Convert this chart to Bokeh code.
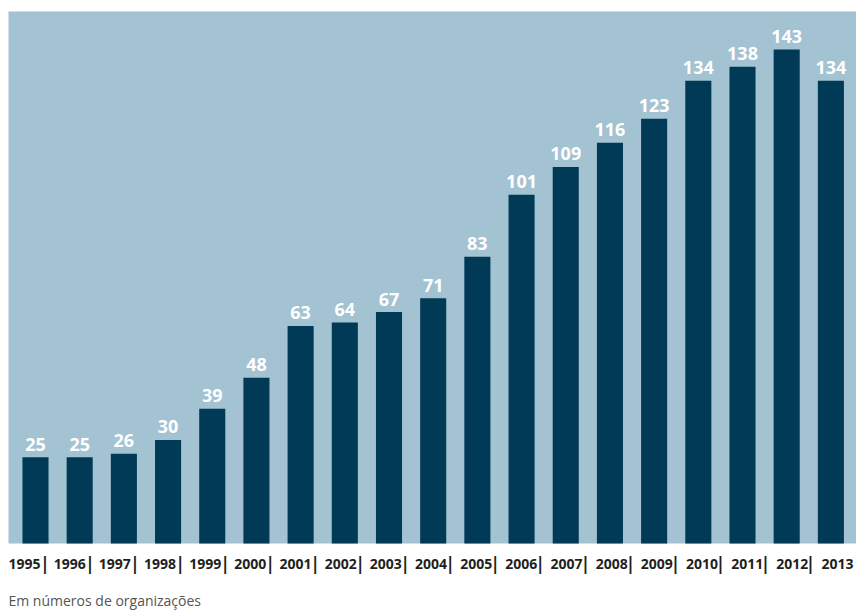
from bokeh.plotting import figure
from bokeh.models import ColumnDataSource, BoxAnnotation, Range1d
from bokeh.core.properties import value
from bokeh.embed import file_html
from bokeh.resources import INLINE

years = ["1995", "1996", "1997", "1998", "1999", "2000", "2001", "2002", "2003", "2004",
         "2005", "2006", "2007", "2008", "2009", "2010", "2011", "2012", "2013"]
counts = [25, 25, 26, 30, 39, 48, 63, 64, 67, 71, 83, 101, 109, 116, 123, 134, 138, 143, 134]
note = "Em números de organizações"

BG = "#a3c2d2"
BAR = "#003a57"
FONT = "Open Sans"

n = len(years)
idx = list(range(n))

p = figure(width=856, height=611, output_backend="svg", toolbar_location=None,
           x_range=Range1d(-0.792, 18.58), y_range=Range1d(-19.68, 157.2),
           x_axis_location=None, y_axis_location=None, min_border=0,
           background_fill_color="white", border_fill_color="white", outline_line_color=None)
p.grid.visible = False

p.add_layout(BoxAnnotation(left=-0.611, right=18.58, bottom=0, top=154.0,
                           fill_color=BG, fill_alpha=1.0, line_color=None, level="underlay"))

src = ColumnDataSource(dict(x=idx, top=counts, lab=[str(c) for c in counts],
                            year=years, xoff=[-11 + i * 0.98 for i in idx]))

p.vbar(x="x", top="top", bottom=0, width=0.59, source=src, fill_color=BAR, line_color=None)

p.text(x="x", y="top", text="lab", source=src, text_align="center", text_baseline="middle",
       y_offset=-13, text_color="white", text_font=value(FONT), text_font_style="bold",
       text_font_size="18px")

# year labels below the plot area
p.text(x="x", y=-5.8, text="year", source=src, x_offset="xoff", text_align="center",
       text_baseline="middle", text_color="#231f20", text_font=value(FONT),
       text_font_style="bold", text_font_size="14px")

sep = ColumnDataSource(dict(x=[i + 0.5 for i in idx[:-1]], t=["|"] * (n - 1),
                            off=[-12.6 + 0.84 * i for i in idx[:-1]]))
p.text(x="x", y=-5.8, text="t", source=sep, x_offset="off", text_align="center",
       text_baseline="middle", text_color="#231f20", text_font=value(FONT),
       text_font_style="bold", text_font_size="17px")

p.text(x=[-0.611], y=[-16.6], text=[note], text_align="left", text_baseline="middle",
       text_color="#555555", text_font=value(FONT), text_font_size="14px")

open("out.html", "w").write(file_html(p, INLINE))
